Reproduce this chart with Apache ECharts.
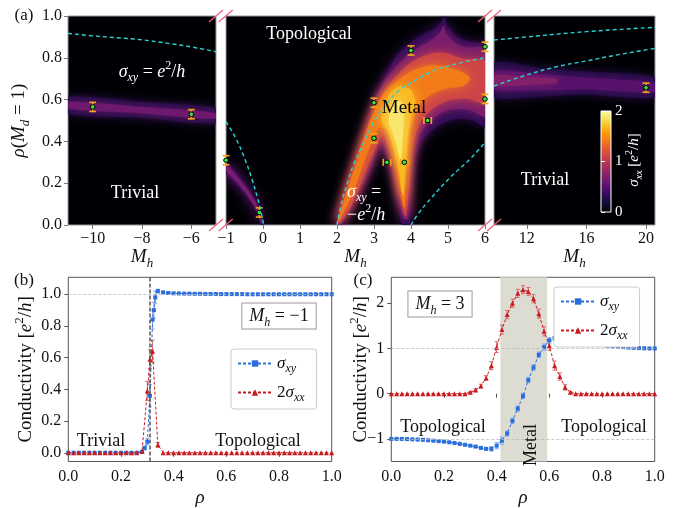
<!DOCTYPE html>
<html>
<head>
<meta charset="utf-8">
<script src="https://cdn.jsdelivr.net/npm/echarts@6/dist/echarts.min.js"></script>
<style>
  html, body { margin: 0; padding: 0; background: #fff; }
  #main { width: 678px; height: 508px; }
</style>
</head>
<body>
<div id="main"></div>
<script>
const FONT = 'Liberation Serif';

// ---------- panel (a): phase diagram ----------
const mhLeftTicks = [-10, -8, -6];
const mhRightTicks = [12, 16, 20];

// cyan dashed phase boundaries, [Mh, rho]
const edgeLeft = [[-11, 0.917], [-10, 0.905], [-9, 0.896], [-8, 0.886], [-7, 0.87], [-6, 0.852], [-5, 0.829]];
const edgeMid1 = [[-1, 0.494], [-0.75, 0.42], [-0.5, 0.32], [-0.3, 0.22], [-0.15, 0.13], [-0.05, 0.06], [0.02, 0]];
const edgeMid2 = [[2.0, 0], [2.1, 0.09], [2.29, 0.207], [2.45, 0.29], [2.65, 0.367], [3.0, 0.494], [3.3, 0.57], [3.64, 0.638], [4.0, 0.68], [4.54, 0.733], [5.0, 0.76], [5.44, 0.78], [6, 0.8]];
const edgeMid3 = [[4.0, 0], [4.2, 0.055], [4.54, 0.128], [5.08, 0.231], [5.62, 0.32], [6, 0.395]];
const edgeRight1 = [[9.8, 0.665], [12, 0.718], [14, 0.757], [16, 0.785], [18, 0.813], [20.6, 0.845]];
const edgeRight2 = [[9.8, 0.885], [12, 0.9], [16, 0.925], [20.6, 0.946]];

// sigma_xx contour shapes, with their level in e^2/h
const bandL1 = [[-11, 0.612], [-8, 0.588], [-5, 0.558], [-5, 0.488], [-8, 0.513], [-11, 0.535]];
const bandL2 = [[-11, 0.59], [-8, 0.566], [-5, 0.536], [-5, 0.508], [-8, 0.534], [-11, 0.557]];
const levelsLeft = [0.25, 0.62];

const thinOuter = [[-1, 0.305], [-0.75, 0.258], [-0.45, 0.19], [-0.25, 0.135], [-0.12, 0.09], [-0.02, 0.03], [0.01, 0], [-0.06, 0], [-0.15, 0.05], [-0.28, 0.095], [-0.48, 0.145], [-0.75, 0.2], [-1, 0.245]];
const thinCore = [[-1, 0.29], [-0.75, 0.243], [-0.45, 0.178], [-0.25, 0.124], [-0.12, 0.08], [-0.03, 0.02], [-0.04, 0.008], [-0.15, 0.058], [-0.28, 0.105], [-0.48, 0.156], [-0.75, 0.215], [-1, 0.26]];
const fanA = [[1.96, 0], [2.1, 0.09], [2.3, 0.2], [2.5, 0.3], [2.7, 0.41], [2.85, 0.5], [3.0, 0.6], [3.2, 0.68], [3.45, 0.76], [3.65, 0.82], [4.0, 0.875], [4.35, 0.915], [4.65, 0.94], [4.82, 0.97], [4.9, 1.0], [4.98, 0.955], [5.2, 0.905], [5.5, 0.88], [5.8, 0.87], [6, 0.87], [6, 0.47], [5.7, 0.5], [5.3, 0.51], [4.9, 0.49], [4.55, 0.45], [4.3, 0.4], [4.12, 0.33], [4.05, 0.22], [4.0, 0.1], [3.98, 0.02], [3.96, 0], [3.76, 0], [3.7, 0.05], [3.6, 0.14], [3.48, 0.24], [3.35, 0.32], [3.22, 0.37], [3.15, 0.385], [3.05, 0.33], [2.95, 0.28], [2.75, 0.2], [2.45, 0.1], [2.2, 0.02], [2.12, 0]];
const fanB = [[1.98, 0], [2.13, 0.1], [2.33, 0.21], [2.55, 0.33], [2.75, 0.44], [2.92, 0.53], [3.1, 0.62], [3.3, 0.69], [3.6, 0.76], [3.9, 0.81], [4.25, 0.855], [4.6, 0.89], [4.8, 0.925], [4.88, 0.955], [4.96, 0.915], [5.2, 0.87], [5.5, 0.85], [6, 0.845], [6, 0.52], [5.6, 0.55], [5.2, 0.555], [4.8, 0.535], [4.5, 0.495], [4.25, 0.435], [4.08, 0.34], [3.99, 0.22], [3.95, 0.1], [3.92, 0.03], [3.8, 0.03], [3.72, 0.09], [3.6, 0.18], [3.47, 0.28], [3.33, 0.36], [3.2, 0.4], [3.1, 0.38], [2.97, 0.31], [2.72, 0.21], [2.42, 0.1], [2.1, 0]];
const fanC = [[2.0, 0.01], [2.14, 0.1], [2.34, 0.22], [2.56, 0.34], [2.82, 0.47], [3.1, 0.59], [3.35, 0.66], [3.65, 0.72], [3.95, 0.77], [4.3, 0.805], [4.65, 0.825], [5.0, 0.82], [5.4, 0.795], [6, 0.785], [6, 0.585], [5.5, 0.605], [5.0, 0.595], [4.65, 0.565], [4.35, 0.515], [4.15, 0.445], [4.02, 0.335], [3.95, 0.2], [3.9, 0.08], [3.85, 0.04], [3.78, 0.07], [3.68, 0.16], [3.56, 0.27], [3.42, 0.36], [3.3, 0.42], [3.22, 0.43], [3.05, 0.37], [2.85, 0.29], [2.6, 0.18], [2.32, 0.07], [2.08, 0.01]];
const fanD = [[2.02, 0.02], [2.16, 0.1], [2.36, 0.21], [2.55, 0.31], [2.75, 0.42], [2.95, 0.52], [3.2, 0.61], [3.5, 0.67], [3.85, 0.72], [4.2, 0.75], [4.6, 0.765], [5.0, 0.755], [5.4, 0.73], [5.6, 0.7], [5.4, 0.665], [5.0, 0.655], [4.6, 0.63], [4.3, 0.59], [4.1, 0.53], [3.97, 0.43], [3.9, 0.3], [3.86, 0.17], [3.83, 0.08], [3.78, 0.1], [3.7, 0.19], [3.6, 0.29], [3.47, 0.39], [3.32, 0.46], [3.17, 0.47], [3.1, 0.46], [2.9, 0.38], [2.65, 0.26], [2.4, 0.14], [2.18, 0.06], [2.06, 0.02]];
const fanE = [[3.2, 0.5], [3.3, 0.585], [3.5, 0.645], [3.75, 0.665], [4.0, 0.645], [4.12, 0.59], [3.99, 0.51], [3.9, 0.39], [3.84, 0.25], [3.8, 0.14], [3.75, 0.16], [3.67, 0.26], [3.55, 0.36], [3.4, 0.445]];
const fanF = [[3.4, 0.49], [3.46, 0.56], [3.6, 0.6], [3.74, 0.585], [3.8, 0.52], [3.78, 0.43], [3.75, 0.34], [3.72, 0.28], [3.67, 0.33], [3.58, 0.4], [3.48, 0.45]];
const levelsMid = [0.36, 0.68, 0.32, 0.68, 1.1, 1.42, 1.68, 1.88];

const bandR1 = [[9.8, 0.775], [13, 0.75], [16, 0.735], [20.6, 0.705], [20.6, 0.612], [16, 0.625], [13, 0.615], [9.8, 0.612]];
const bandR2 = [[9.8, 0.735], [13, 0.72], [16, 0.705], [20.6, 0.68], [20.6, 0.635], [16, 0.65], [13, 0.645], [9.8, 0.648]];
const bandR3 = [[9.8, 0.715], [12, 0.708], [14, 0.7], [14, 0.68], [12, 0.67], [9.8, 0.668]];
const levelsRight = [0.25, 0.5, 0.72];

// estimated transition points with error bars: [Mh, rho, errMh, errRho]
const transLeft = [[-10, 0.565, 0, 0.022], [-6, 0.53, 0, 0.022]];
const transMid = [[-1, 0.31, 0, 0.022], [-0.1, 0.06, 0, 0.022], [3, 0.585, 0, 0.022], [3, 0.415, 0, 0.022],
  [3.35, 0.3, 0.1, 0], [3.82, 0.3, 0.1, 0], [4.45, 0.5, 0.1, 0], [4.0, 0.835, 0, 0.022], [6, 0.853, 0, 0.022], [6, 0.603, 0, 0.022]];
const transRight = [[20, 0.657, 0, 0.022]];

// ---------- panel (b): Mh = -1 ----------
const rhoB = [0, 0.02, 0.04, 0.06, 0.08, 0.1, 0.12, 0.14, 0.16, 0.18, 0.2, 0.22, 0.24, 0.26, 0.28, 0.29, 0.3, 0.31, 0.32, 0.325, 0.33, 0.34,
  0.36, 0.38, 0.4, 0.42, 0.44, 0.46, 0.48, 0.5, 0.52, 0.54, 0.56, 0.58, 0.6, 0.62, 0.64, 0.66, 0.68, 0.7, 0.72, 0.74, 0.76, 0.78, 0.8,
  0.82, 0.84, 0.86, 0.88, 0.9, 0.92, 0.94, 0.96, 0.98, 1.0];
const sxyB = [0, 0, 0, 0, 0, 0, 0, 0, 0, 0, 0, 0, 0, 0, 0.005, 0.03, 0.07, 0.36, 0.84, 0.9, 0.98, 1.02,
  1.012, 1.008, 1.006, 1.005, 1.004, 1.004, 1.003, 1.003, 1.002, 1.002, 1.002, 1.001, 1.001, 1.001, 1.001, 1.001, 1, 1, 1, 1, 1, 1, 1,
  1, 1, 1, 1, 1, 1, 1, 1, 1, 1];
const sxyErrB = [0, 0, 0, 0, 0, 0, 0, 0, 0, 0, 0, 0, 0, 0, 0.004, 0.012, 0.02, 0.07, 0.06, 0.05, 0.04, 0.012,
  0.005, 0.004, 0, 0, 0, 0, 0, 0, 0, 0, 0, 0, 0, 0, 0, 0, 0, 0, 0, 0, 0, 0, 0, 0, 0, 0, 0, 0, 0, 0, 0, 0, 0];
const rhoRedB = [0, 0.02, 0.04, 0.06, 0.08, 0.1, 0.12, 0.14, 0.16, 0.18, 0.2, 0.22, 0.24, 0.26, 0.28, 0.3, 0.31, 0.32, 0.34,
  0.36, 0.38, 0.4, 0.42, 0.44, 0.46, 0.48, 0.5, 0.52, 0.54, 0.56, 0.58, 0.6, 0.62, 0.64, 0.66, 0.68, 0.7, 0.72, 0.74, 0.76, 0.78, 0.8,
  0.82, 0.84, 0.86, 0.88, 0.9, 0.92, 0.94, 0.96, 0.98, 1.0];
const sxxB = [0, 0, 0, 0, 0, 0, 0, 0, 0, 0, 0, 0, 0, 0, 0.01, 0.39, 0.59, 0.64, 0.05,
  0, 0, 0, 0, 0, 0, 0, 0, 0, 0, 0, 0, 0, 0, 0, 0, 0, 0, 0, 0, 0, 0, 0, 0, 0, 0, 0, 0, 0, 0, 0, 0, 0];
const sxxErrB = [0, 0, 0, 0, 0, 0, 0, 0, 0, 0, 0, 0, 0, 0, 0.005, 0.06, 0.06, 0.07, 0.015,
  0, 0, 0, 0, 0, 0, 0, 0, 0, 0, 0, 0, 0, 0, 0, 0, 0, 0, 0, 0, 0, 0, 0, 0, 0, 0, 0, 0, 0, 0, 0, 0, 0];
const transB = 0.31;

// ---------- panel (c): Mh = 3 ----------
const rhoC = [0, 0.02, 0.04, 0.06, 0.08, 0.1, 0.12, 0.14, 0.16, 0.18, 0.2, 0.22, 0.24, 0.26, 0.28, 0.3, 0.32, 0.34, 0.36, 0.38,
  0.4, 0.42, 0.44, 0.46, 0.48, 0.5, 0.52, 0.54, 0.56, 0.58, 0.6, 0.62, 0.64, 0.66, 0.68, 0.7, 0.72, 0.74, 0.76, 0.78,
  0.8, 0.82, 0.84, 0.86, 0.88, 0.9, 0.92, 0.94, 0.96, 0.98, 1.0];
const sxyC = [-1, -1, -1, -1.005, -1.01, -1.015, -1.02, -1.03, -1.04, -1.05, -1.06, -1.075, -1.09, -1.11, -1.13, -1.15, -1.17, -1.2, -1.22, -1.22,
  -1.15, -1.04, -0.88, -0.6, -0.33, -0.05, 0.3, 0.58, 0.86, 1.03, 1.18, 1.23, 1.22, 1.21, 1.19, 1.17, 1.15, 1.13, 1.11, 1.09,
  1.08, 1.06, 1.05, 1.04, 1.03, 1.02, 1.015, 1.01, 1.005, 1, 1];
const sxyErrC = [0.005, 0.005, 0.005, 0.005, 0.005, 0.006, 0.006, 0.007, 0.007, 0.008, 0.008, 0.01, 0.01, 0.012, 0.012, 0.015, 0.02, 0.025, 0.03, 0.05,
  0.07, 0.08, 0.06, 0.06, 0.06, 0.06, 0.06, 0.06, 0.06, 0.07, 0.06, 0.04, 0.03, 0.02, 0.015, 0.012, 0.01, 0.01, 0.008, 0.008,
  0.007, 0.006, 0.006, 0.005, 0.005, 0.005, 0.005, 0.005, 0.005, 0.005, 0.005];
const sxxC = [0, 0, 0, 0, 0, 0, 0, 0, 0, 0, 0, 0, 0, 0, 0, 0.03, 0.08, 0.17, 0.35, 0.62,
  1.03, 1.42, 1.75, 2.0, 2.22, 2.3, 2.26, 2.1, 1.77, 1.38, 1.06, 0.62, 0.38, 0.14, 0.03, 0, 0, 0, 0, 0,
  0, 0, 0, 0, 0, 0, 0, 0, 0, 0, 0];
const sxxErrC = [0, 0, 0, 0, 0, 0, 0, 0, 0, 0, 0, 0, 0, 0, 0, 0.015, 0.03, 0.04, 0.05, 0.09,
  0.12, 0.1, 0.09, 0.09, 0.09, 0.09, 0.09, 0.09, 0.1, 0.1, 0.1, 0.1, 0.08, 0.06, 0.02, 0, 0, 0, 0, 0,
  0, 0, 0, 0, 0, 0, 0, 0, 0, 0, 0];
const metalC = [0.414, 0.592];

// inferno colour map stops
const inferno = ['#000004', '#160b39', '#420a68', '#6a176e', '#932667', '#bc3754', '#dd513a', '#f37819', '#fca50a', '#f6d746', '#fcffa4'];

const BLUE = '#2a6edb', BLUE_ERR = '#7ea6ea';
const RED = '#c81b1f', RED_ERR = '#dc6a6a';

function rich(size, color) {
  return {
    n: { fontFamily: FONT, fontSize: size, color: color, lineHeight: Math.round(size * 1.35) },
    i: { fontFamily: FONT, fontSize: size, fontStyle: 'italic', color: color, lineHeight: Math.round(size * 1.35) },
    sub: { fontFamily: FONT, fontSize: Math.round(size * 0.68), fontStyle: 'italic', color: color, verticalAlign: 'bottom', lineHeight: Math.round(size * 0.7) },
    sup: { fontFamily: FONT, fontSize: Math.round(size * 0.68), color: color, verticalAlign: 'top', lineHeight: Math.round(size * 0.9) }
  };
}
const minus = v => String(+v.toFixed(1)).replace('-', '\u2212');

const chart = echarts.init(document.getElementById('main'), null, { renderer: 'canvas' });

const gridsA = [
  { left: 68, top: 16, width: 148, height: 209 },
  { left: 226, top: 16, width: 259, height: 209 },
  { left: 494, top: 16, width: 161, height: 209 }
];
const grid = gridsA.map(g => Object.assign({ show: true, backgroundColor: '#000004', borderColor: '#9a9a9a', borderWidth: 1 }, g));
grid.push({ show: true, left: 601, top: 111, width: 10, height: 101, borderColor: '#fff', borderWidth: 1,
  backgroundColor: new echarts.graphic.LinearGradient(0, 1, 0, 0, inferno.map((c, i) => ({ offset: i / 10, color: c }))) });
grid.push({ show: true, left: 68.3, top: 277.3, width: 263.4, height: 196, backgroundColor: 'transparent', borderColor: '#555', borderWidth: 1 });
grid.push({ show: true, left: 391.3, top: 277.3, width: 263.4, height: 196, backgroundColor: 'transparent', borderColor: '#555', borderWidth: 1 });

const tickA = { show: true, length: 4, lineStyle: { color: '#777' } };
const labelA = { color: '#111', fontFamily: FONT, fontSize: 16, margin: 6, formatter: v => minus(v) };
const mhName = { name: '{i|M}{sub|h}', nameLocation: 'middle', nameGap: 19, nameTextStyle: { rich: rich(19, '#111') } };

const xAxis = [
  Object.assign({ gridIndex: 0, type: 'value', min: -11, max: -5, axisLine: { show: false }, splitLine: { show: false },
    axisTick: Object.assign({ customValues: mhLeftTicks }, tickA), axisLabel: Object.assign({ customValues: mhLeftTicks }, labelA) }, mhName),
  Object.assign({ gridIndex: 1, type: 'value', min: -1, max: 6, interval: 1, axisLine: { show: false }, splitLine: { show: false },
    axisTick: tickA, axisLabel: labelA }, mhName),
  Object.assign({ gridIndex: 2, type: 'value', min: 9.8, max: 20.6, axisLine: { show: false }, splitLine: { show: false },
    axisTick: Object.assign({ customValues: mhRightTicks }, tickA), axisLabel: Object.assign({ customValues: mhRightTicks }, labelA) }, mhName),
  { gridIndex: 3, type: 'value', min: 0, max: 1, show: false },
  { gridIndex: 4, type: 'value', min: 0, max: 1, interval: 0.2, axisLine: { show: false }, splitLine: { show: false },
    axisTick: { length: 4, lineStyle: { color: '#555' } },
    axisLabel: { color: '#111', fontFamily: FONT, fontSize: 16, margin: 7, formatter: v => v.toFixed(1) },
    name: '{i|ρ}', nameLocation: 'middle', nameGap: 23, nameTextStyle: { rich: rich(19, '#111') } },
  { gridIndex: 5, type: 'value', min: 0, max: 1, interval: 0.2, axisLine: { show: false }, splitLine: { show: false },
    axisTick: { length: 4, lineStyle: { color: '#555' } },
    axisLabel: { color: '#111', fontFamily: FONT, fontSize: 16, margin: 7, formatter: v => v.toFixed(1) },
    name: '{i|ρ}', nameLocation: 'middle', nameGap: 23, nameTextStyle: { rich: rich(19, '#111') } }
];

const condName = '{n|Conductivity [}{i|e}{sup|2}{n|/}{i|h}{n|]}';
const yAxis = [
  { gridIndex: 0, type: 'value', min: 0, max: 1, interval: 0.2, axisLine: { show: false }, splitLine: { show: false },
    axisTick: tickA, axisLabel: Object.assign({}, labelA, { formatter: v => v.toFixed(1) }),
    name: '{i|ρ}{n|(}{i|M}{sub|d}{n| = 1)}', nameLocation: 'middle', nameRotate: 90, nameGap: 36, nameTextStyle: { rich: rich(19, '#111') } },
  { gridIndex: 1, type: 'value', min: 0, max: 1, show: false },
  { gridIndex: 2, type: 'value', min: 0, max: 1, show: false },
  { gridIndex: 3, type: 'value', min: 0, max: 2, interval: 1, position: 'right', axisLine: { show: false }, splitLine: { show: false },
    axisTick: { length: 4, lineStyle: { color: '#fff' } },
    axisLabel: { color: '#fff', fontFamily: FONT, fontSize: 15, margin: 4 } },
  { gridIndex: 4, type: 'value', min: -0.055, max: 1.107, axisLine: { show: false }, splitLine: { show: false },
    axisTick: { length: 4, lineStyle: { color: '#555' }, customValues: [0, 0.2, 0.4, 0.6, 0.8, 1.0] },
    axisLabel: { color: '#111', fontFamily: FONT, fontSize: 16, margin: 7, customValues: [0, 0.2, 0.4, 0.6, 0.8, 1.0], formatter: v => v.toFixed(1) },
    name: condName, nameLocation: 'middle', nameRotate: 90, nameGap: 29, nameMoveOverlap: false, nameTextStyle: { rich: rich(19, '#111') } },
  { gridIndex: 5, type: 'value', min: -1.5, max: 2.575, axisLine: { show: false }, splitLine: { show: false },
    axisTick: { length: 4, lineStyle: { color: '#555' }, customValues: [-1, 0, 1, 2] },
    axisLabel: { color: '#111', fontFamily: FONT, fontSize: 16, margin: 7, customValues: [-1, 0, 1, 2], formatter: v => minus(v) },
    name: condName, nameLocation: 'middle', nameRotate: 90, nameGap: 17, nameMoveOverlap: false, nameTextStyle: { rich: rich(19, '#111') } }
];

const series = [];
const heatIdx = [];

function heatSeries(gi, shapes, levels, blur) {
  heatIdx.push(series.length);
  series.push({
    type: 'custom', xAxisIndex: gi, yAxisIndex: gi, silent: true, clip: true,
    data: shapes.map((s, i) => [s[0][0], s[0][1], levels[i], i]),
    encode: { x: 0, y: 1 },
    renderItem: (params, api) => {
      const pts = shapes[api.value(3)].map(p => api.coord(p));
      const c = api.visual('color');
      return { type: 'polygon', shape: { points: pts, smooth: 0.25 },
        style: { fill: c, shadowBlur: blur, shadowColor: c } };
    }
  });
}
heatSeries(0, [bandL1, bandL2], levelsLeft, 8);
heatSeries(1, [thinOuter, thinCore, fanA, fanB, fanC, fanD, fanE, fanF], levelsMid, 11);
heatSeries(2, [bandR1, bandR2, bandR3], levelsRight, 9);

function edge(gi, pts) {
  series.push({ type: 'line', xAxisIndex: gi, yAxisIndex: gi, data: pts, showSymbol: false, smooth: true, silent: true,
    lineStyle: { color: '#27d4d4', width: 1.4, type: [4, 3] } });
}
edge(0, edgeLeft);
edge(1, edgeMid1); edge(1, edgeMid2); edge(1, edgeMid3);
edge(2, edgeRight1); edge(2, edgeRight2);

function transPoints(gi, pts) {
  series.push({
    type: 'custom', xAxisIndex: gi, yAxisIndex: gi, silent: true, clip: false, data: pts, encode: { x: 0, y: 1 },
    renderItem: (params, api) => {
      const x = api.value(0), y = api.value(1), ex = api.value(2), ey = api.value(3);
      const st = { stroke: '#f2a516', lineWidth: 1.6 };
      const ch = [];
      if (ey > 0) {
        const a = api.coord([x, y - ey]), b = api.coord([x, y + ey]);
        ch.push({ type: 'line', shape: { x1: a[0], y1: a[1], x2: b[0], y2: b[1] }, style: st });
        ch.push({ type: 'line', shape: { x1: a[0] - 3.5, y1: a[1], x2: a[0] + 3.5, y2: a[1] }, style: st });
        ch.push({ type: 'line', shape: { x1: b[0] - 3.5, y1: b[1], x2: b[0] + 3.5, y2: b[1] }, style: st });
      }
      if (ex > 0) {
        const a = api.coord([x - ex, y]), b = api.coord([x + ex, y]);
        ch.push({ type: 'line', shape: { x1: a[0], y1: a[1], x2: b[0], y2: b[1] }, style: st });
        ch.push({ type: 'line', shape: { x1: a[0], y1: a[1] - 3.5, x2: a[0], y2: a[1] + 3.5 }, style: st });
        ch.push({ type: 'line', shape: { x1: b[0], y1: b[1] - 3.5, x2: b[0], y2: b[1] + 3.5 }, style: st });
      }
      const c = api.coord([x, y]);
      ch.push({ type: 'circle', shape: { cx: c[0], cy: c[1], r: 2.3 }, style: { fill: '#3be33b', stroke: '#000', lineWidth: 1 } });
      return { type: 'group', children: ch };
    }
  });
}
transPoints(0, transLeft);
transPoints(1, transMid);
transPoints(2, transRight);

// reference lines / shading behind panel (b) and (c)
series.push({ type: 'line', xAxisIndex: 4, yAxisIndex: 4, data: [], silent: true,
  markLine: { silent: true, symbol: 'none', label: { show: false }, lineStyle: { color: '#bbb', type: [3, 2], width: 0.8 }, data: [{ yAxis: 1 }] } });
series.push({ type: 'line', xAxisIndex: 5, yAxisIndex: 5, data: [], silent: true,
  markArea: { silent: true, itemStyle: { color: '#dddcd3' }, data: [[{ xAxis: metalC[0] }, { xAxis: metalC[1] }]] },
  markLine: { silent: true, symbol: 'none', label: { show: false }, lineStyle: { color: '#bbb', type: [3, 2], width: 0.8 }, data: [{ yAxis: 1 }, { yAxis: -1 }] } });

function errBars(gi, xs, ys, es, color) {
  series.push({
    type: 'custom', xAxisIndex: gi, yAxisIndex: gi, silent: true,
    data: xs.map((x, i) => [x, ys[i], es[i]]), encode: { x: 0, y: 1 },
    renderItem: (params, api) => {
      const x = api.value(0), y = api.value(1), e = api.value(2);
      if (!(e > 0)) return null;
      const a = api.coord([x, y - e]), b = api.coord([x, y + e]);
      const st = { stroke: color, lineWidth: 1 };
      return { type: 'group', children: [
        { type: 'line', shape: { x1: a[0], y1: a[1], x2: b[0], y2: b[1] }, style: st },
        { type: 'line', shape: { x1: a[0] - 2, y1: a[1], x2: a[0] + 2, y2: a[1] }, style: st },
        { type: 'line', shape: { x1: b[0] - 2, y1: b[1], x2: b[0] + 2, y2: b[1] }, style: st }
      ] };
    }
  });
}
function dataLine(gi, name, xs, ys, color, symbol, size) {
  series.push({ type: 'line', name: name, xAxisIndex: gi, yAxisIndex: gi, data: xs.map((x, i) => [x, ys[i]]),
    symbol: symbol, symbolSize: size, showAllSymbol: true, silent: true,
    itemStyle: { color: color }, lineStyle: { color: color, width: 1, type: [3, 2] } });
}
errBars(4, rhoB, sxyB, sxyErrB, BLUE_ERR);
dataLine(4, 'sxy', rhoB, sxyB, BLUE, 'rect', 4);
errBars(4, rhoRedB, sxxB, sxxErrB, RED_ERR);
dataLine(4, 'sxx2', rhoRedB, sxxB, RED, 'triangle', 5);
series.push({ type: 'line', xAxisIndex: 4, yAxisIndex: 4, data: [], silent: true,
  markLine: { silent: true, symbol: 'none', label: { show: false }, lineStyle: { color: '#555', type: [4, 2], width: 1.5 }, data: [{ xAxis: transB }] } });

errBars(5, rhoC, sxyC, sxyErrC, BLUE_ERR);
dataLine(5, 'sxy', rhoC, sxyC, BLUE, 'rect', 4);
errBars(5, rhoC, sxxC, sxxErrC, RED_ERR);
dataLine(5, 'sxx2', rhoC, sxxC, RED, 'triangle', 5);

// ---------- text and decorations ----------
const graphic = [];
function txt(x, y, text, size, color, extra) {
  graphic.push(Object.assign({ type: 'text', x: x, y: y, z: 100, silent: true,
    style: Object.assign({ text: text, rich: rich(size, color), fill: color, fontFamily: FONT, fontSize: size, align: 'center', verticalAlign: 'middle' }, extra && extra.style) },
    extra && extra.el));
}
txt(24, 16, '{n|(a)}', 17, '#111');
txt(24, 281, '{n|(b)}', 17, '#111');
txt(363, 281, '{n|(c)}', 17, '#111');

txt(152, 72, '{i|σ}{sub|xy}{n| = }{i|e}{sup|2}{n|/}{i|h}', 18, '#fff');
txt(135, 193, '{n|Trivial}', 18, '#fff');
txt(309, 34, '{n|Topological}', 18, '#fff');
txt(404, 108, '{n|Metal}', 19, '#000');
txt(347, 192, '{i|σ}{sub|xy}{n| =}', 18, '#fff', { style: { align: 'left' } });
txt(347, 215, '{n|\u2212}{i|e}{sup|2}{n|/}{i|h}', 18, '#fff', { style: { align: 'left' } });
txt(545, 180, '{n|Trivial}', 18, '#fff');
txt(634, 160, '{i|σ}{sub|xx}{n| [}{i|e}{sup|2}{n|/}{i|h}{n|]}', 15, '#fff', { el: { rotation: Math.PI / 2 } });

txt(101, 441, '{n|Trivial}', 18, '#111');
txt(258, 441, '{n|Topological}', 18, '#111');
txt(279, 316, '{i|M}{sub|h}{n| = \u22121}', 18, '#111', { style: { backgroundColor: '#fff', borderColor: '#999', borderWidth: 1, padding: [1, 7, 0, 7] } });

txt(443, 427, '{n|Topological}', 18, '#111');
txt(604, 427, '{n|Topological}', 18, '#111');
txt(531, 445, '{n|Metal}', 18, '#111', { el: { rotation: Math.PI / 2 } });
txt(440, 304, '{i|M}{sub|h}{n| = 3}', 18, '#111', { style: { backgroundColor: '#fff', borderColor: '#999', borderWidth: 1, padding: [1, 7, 0, 7] } });

// axis break marks
[[216, 16], [225.7, 16], [485, 16], [494, 16], [216, 225], [225.7, 225], [485, 225], [494, 225]].forEach(p => {
  graphic.push({ type: 'line', z: 101, silent: true, shape: { x1: p[0] - 7, y1: p[1] + 6, x2: p[0] + 7, y2: p[1] - 6 },
    style: { stroke: '#f0607c', lineWidth: 1.2 } });
});

const legendBase = {
  data: ['sxy', 'sxx2'], orient: 'vertical', itemWidth: 34, itemHeight: 8, itemGap: 9, selectedMode: false,
  padding: [6, 12, 5, 6], backgroundColor: '#fff', borderColor: '#ccc', borderWidth: 1, borderRadius: 3,
  formatter: n => n === 'sxy' ? '{i|σ}{sub|xy}' : '{n|2}{i|σ}{sub|xx}',
  textStyle: { rich: rich(17, '#111') }
};

chart.setOption({
  animation: false,
  grid: grid,
  xAxis: xAxis,
  yAxis: yAxis,
  visualMap: { show: false, type: 'continuous', seriesIndex: heatIdx, dimension: 2, min: 0, max: 2, inRange: { color: inferno } },
  legend: [Object.assign({ left: 231, top: 349 }, legendBase), Object.assign({ left: 554, top: 287 }, legendBase)],
  series: series,
  graphic: graphic
});
</script>
</body>
</html>
